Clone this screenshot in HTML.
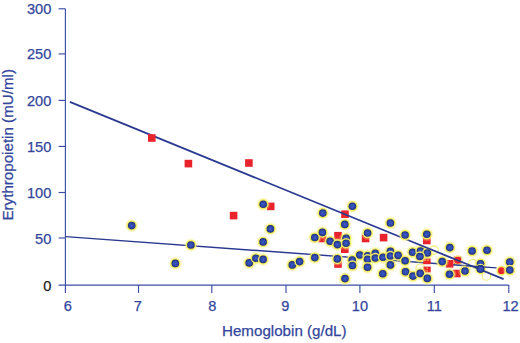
<!DOCTYPE html><html><head><meta charset="utf-8"><title>chart</title><style>
html,body{margin:0;padding:0;background:#fff;}body{width:520px;height:343px;overflow:hidden;font-family:"Liberation Sans",sans-serif;}svg{display:block}text{font-family:"Liberation Sans",sans-serif;stroke-width:0.25px;}
</style></head><body>
<svg width="520" height="343" viewBox="0 0 520 343">
<defs><radialGradient id="bg" gradientUnits="objectBoundingBox" cx="0.5" cy="0.5" r="0.5"><stop offset="0" stop-color="#3d58c6"/><stop offset="0.6" stop-color="#2e49ac"/><stop offset="0.86" stop-color="#233684"/><stop offset="1" stop-color="#1d2a6c"/></radialGradient></defs>
<rect width="520" height="343" fill="#ffffff"/>
<g stroke="#3b4ea5" stroke-width="1.15" fill="none">
<path d="M65.4 8.8V292.9"/>
<path d="M58.6 285.1H508.8" stroke-width="1.4"/>
<path d="M508.8 285.1V292.9"/>
<path d="M58.6 238.0H65.4"/>
<path d="M58.6 192.5H65.4"/>
<path d="M58.6 146.4H65.4"/>
<path d="M58.6 100.4H65.4"/>
<path d="M58.6 53.9H65.4"/>
<path d="M58.6 8.8H65.4"/>
<path d="M138.5 285.1V292.9"/>
<path d="M211.8 285.1V292.9"/>
<path d="M286.0 285.1V292.9"/>
<path d="M359.9 285.1V292.9"/>
<path d="M434.3 285.1V292.9"/>
</g>
<g fill="#33469b" stroke="#33469b" font-size="14.6px">
<text x="51.3" y="243.9" text-anchor="end">50</text>
<text x="51.3" y="198.3" text-anchor="end">100</text>
<text x="51.3" y="151.8" text-anchor="end">150</text>
<text x="51.3" y="105.8" text-anchor="end">200</text>
<text x="51.3" y="59.3" text-anchor="end">250</text>
<text x="51.3" y="14.1" text-anchor="end">300</text>
<text x="67.9" y="310.6" text-anchor="middle">6</text>
<text x="137.9" y="310.6" text-anchor="middle">7</text>
<text x="212.4" y="310.6" text-anchor="middle">8</text>
<text x="285.2" y="310.6" text-anchor="middle">9</text>
<text x="359.9" y="310.6" text-anchor="middle">10</text>
<text x="434.3" y="310.6" text-anchor="middle">11</text>
<text x="510.6" y="310.6" text-anchor="middle">12</text>
</g>
<text x="51.3" y="290.7" text-anchor="end" font-size="14.6px" fill="#1c1c1c" stroke="#1c1c1c">0</text>
 <text x="284.3" y="336.4" text-anchor="middle" font-size="15.15px" fill="#33469b" stroke="#33469b">Hemoglobin (g/dL)</text>
<text transform="translate(13.4 144.8) rotate(-90)" text-anchor="middle" font-size="15.15px" fill="#33469b" stroke="#33469b">Erythropoietin (mU/ml)</text>
<rect x="341.2" y="210.4" width="7.6" height="7.6" fill="#e8232b"/>
<rect x="453.8" y="256.5" width="7.6" height="7.6" fill="#e8232b"/>
<g fill="none" stroke="#f1eb6a" stroke-width="1.15" opacity="0.9">
<circle cx="433.9" cy="250.1" r="4.3"/>
<circle cx="457.9" cy="260.1" r="4.3"/>
<circle cx="472.9" cy="263.7" r="4.3"/>
<circle cx="486.4" cy="275.9" r="4.3"/>
<circle cx="420.2" cy="268.3" r="4.3"/>
</g>
<path d="M69.8 101.90L409 240.46M446 255.57L468 264.56" stroke="#2a3990" stroke-width="1.75" fill="none"/>
<path d="M65.6 236.60L466 265.68" stroke="#2a3990" stroke-width="1.4" fill="none"/>
<g fill="#e8232b">
<rect x="148.0" y="134.2" width="7.6" height="7.6"/>
<rect x="184.6" y="159.8" width="7.6" height="7.6"/>
<rect x="245.1" y="159.2" width="7.6" height="7.6"/>
<rect x="229.8" y="211.8" width="7.6" height="7.6"/>
<rect x="266.9" y="202.6" width="7.6" height="7.6"/>
<rect x="318.6" y="234.7" width="7.6" height="7.6"/>
<rect x="334.2" y="231.9" width="7.6" height="7.6"/>
<rect x="341.0" y="245.4" width="7.6" height="7.6"/>
<rect x="334.2" y="260.2" width="7.6" height="7.6"/>
<rect x="361.8" y="234.7" width="7.6" height="7.6"/>
<rect x="379.8" y="233.8" width="7.6" height="7.6"/>
<rect x="423.0" y="236.7" width="7.6" height="7.6"/>
<rect x="445.8" y="260.0" width="7.6" height="7.6"/>
<rect x="453.1" y="269.7" width="7.6" height="7.6"/>
</g>
<rect x="423.2" y="258.4" width="7.4" height="5.8" fill="#e8232b"/><path d="M424.6 260.2H429.2" stroke="#f2ec64" stroke-width="1" stroke-dasharray="1.6 1.1" opacity="0.85"/>
<rect x="423.5" y="266.6" width="7.2" height="5.8" fill="#e8232b"/><path d="M427.1 267.4V271.8" stroke="#f2ec64" stroke-width="1" stroke-dasharray="1.6 1.1" opacity="0.85"/>
<circle cx="501.4" cy="270.7" r="4.2" fill="#e8232b" stroke="#f2ec64" stroke-width="1.7"/>
<g fill="none" stroke="#f6f27e" stroke-width="4.2" opacity="0.30">
<circle cx="131.7" cy="225.6" r="4.6"/>
<circle cx="190.9" cy="245.0" r="4.6"/>
<circle cx="175.3" cy="263.4" r="4.6"/>
<circle cx="263.2" cy="204.2" r="4.6"/>
<circle cx="270.4" cy="228.9" r="4.6"/>
<circle cx="263.1" cy="241.9" r="4.6"/>
<circle cx="249.2" cy="262.9" r="4.6"/>
<circle cx="255.9" cy="258.2" r="4.6"/>
<circle cx="263.1" cy="259.4" r="4.6"/>
<circle cx="292.3" cy="264.9" r="4.6"/>
<circle cx="299.6" cy="261.6" r="4.6"/>
<circle cx="314.8" cy="257.6" r="4.6"/>
<circle cx="314.8" cy="237.5" r="4.6"/>
<circle cx="352.4" cy="206.2" r="4.6"/>
<circle cx="322.8" cy="213.1" r="4.6"/>
<circle cx="344.8" cy="224.4" r="4.6"/>
<circle cx="322.4" cy="232.4" r="4.6"/>
<circle cx="330.1" cy="241.2" r="4.6"/>
<circle cx="337.4" cy="244.6" r="4.6"/>
<circle cx="346.1" cy="238.2" r="4.6"/>
<circle cx="346.1" cy="243.2" r="4.6"/>
<circle cx="367.6" cy="233.0" r="4.6"/>
<circle cx="337.3" cy="258.9" r="4.6"/>
<circle cx="359.8" cy="255.0" r="4.6"/>
<circle cx="352.2" cy="260.0" r="4.6"/>
<circle cx="352.4" cy="265.5" r="4.6"/>
<circle cx="367.6" cy="255.7" r="4.6"/>
<circle cx="367.6" cy="259.3" r="4.6"/>
<circle cx="345.0" cy="278.6" r="4.6"/>
<circle cx="390.4" cy="223.0" r="4.6"/>
<circle cx="405.1" cy="235.0" r="4.6"/>
<circle cx="426.8" cy="234.3" r="4.6"/>
<circle cx="375.3" cy="253.2" r="4.6"/>
<circle cx="375.3" cy="258.0" r="4.6"/>
<circle cx="383.0" cy="257.3" r="4.6"/>
<circle cx="390.4" cy="251.4" r="4.6"/>
<circle cx="390.4" cy="256.0" r="4.6"/>
<circle cx="398.1" cy="255.4" r="4.6"/>
<circle cx="390.4" cy="264.9" r="4.6"/>
<circle cx="367.5" cy="267.3" r="4.6"/>
<circle cx="382.8" cy="273.7" r="4.6"/>
<circle cx="405.1" cy="260.8" r="4.6"/>
<circle cx="405.5" cy="271.8" r="4.6"/>
<circle cx="412.6" cy="252.3" r="4.6"/>
<circle cx="420.5" cy="251.0" r="4.6"/>
<circle cx="427.3" cy="253.0" r="4.6"/>
<circle cx="419.9" cy="256.5" r="4.6"/>
<circle cx="413.0" cy="276.1" r="4.6"/>
<circle cx="420.2" cy="273.4" r="4.6"/>
<circle cx="427.3" cy="278.4" r="4.6"/>
<circle cx="449.8" cy="247.6" r="4.6"/>
<circle cx="442.2" cy="261.6" r="4.6"/>
<circle cx="449.5" cy="274.2" r="4.6"/>
<circle cx="465.0" cy="271.0" r="4.6"/>
<circle cx="472.1" cy="251.0" r="4.6"/>
<circle cx="487.0" cy="250.2" r="4.6"/>
<circle cx="480.5" cy="263.8" r="4.6"/>
<circle cx="480.5" cy="268.9" r="4.6"/>
<circle cx="509.8" cy="262.1" r="4.6"/>
<circle cx="509.8" cy="270.0" r="4.6"/>
</g>
<g stroke="none">
<circle cx="131.7" cy="225.6" r="5.25" fill="#f2ec64"/><circle cx="131.7" cy="225.6" r="3.8" fill="url(#bg)"/>
<circle cx="190.9" cy="245.0" r="5.25" fill="#f2ec64"/><circle cx="190.9" cy="245.0" r="3.8" fill="url(#bg)"/>
<circle cx="175.3" cy="263.4" r="5.25" fill="#f2ec64"/><circle cx="175.3" cy="263.4" r="3.8" fill="url(#bg)"/>
<circle cx="263.2" cy="204.2" r="5.25" fill="#f2ec64"/><circle cx="263.2" cy="204.2" r="3.8" fill="url(#bg)"/>
<circle cx="270.4" cy="228.9" r="5.25" fill="#f2ec64"/><circle cx="270.4" cy="228.9" r="3.8" fill="url(#bg)"/>
<circle cx="263.1" cy="241.9" r="5.25" fill="#f2ec64"/><circle cx="263.1" cy="241.9" r="3.8" fill="url(#bg)"/>
<circle cx="249.2" cy="262.9" r="5.25" fill="#f2ec64"/><circle cx="249.2" cy="262.9" r="3.8" fill="url(#bg)"/>
<circle cx="255.9" cy="258.2" r="5.25" fill="#f2ec64"/><circle cx="255.9" cy="258.2" r="3.8" fill="url(#bg)"/>
<circle cx="263.1" cy="259.4" r="5.25" fill="#f2ec64"/><circle cx="263.1" cy="259.4" r="3.8" fill="url(#bg)"/>
<circle cx="292.3" cy="264.9" r="5.25" fill="#f2ec64"/><circle cx="292.3" cy="264.9" r="3.8" fill="url(#bg)"/>
<circle cx="299.6" cy="261.6" r="5.25" fill="#f2ec64"/><circle cx="299.6" cy="261.6" r="3.8" fill="url(#bg)"/>
<circle cx="314.8" cy="257.6" r="5.25" fill="#f2ec64"/><circle cx="314.8" cy="257.6" r="3.8" fill="url(#bg)"/>
<circle cx="314.8" cy="237.5" r="5.25" fill="#f2ec64"/><circle cx="314.8" cy="237.5" r="3.8" fill="url(#bg)"/>
<circle cx="352.4" cy="206.2" r="5.25" fill="#f2ec64"/><circle cx="352.4" cy="206.2" r="3.8" fill="url(#bg)"/>
<circle cx="322.8" cy="213.1" r="5.25" fill="#f2ec64"/><circle cx="322.8" cy="213.1" r="3.8" fill="url(#bg)"/>
<circle cx="344.8" cy="224.4" r="5.25" fill="#f2ec64"/><circle cx="344.8" cy="224.4" r="3.8" fill="url(#bg)"/>
<circle cx="322.4" cy="232.4" r="5.25" fill="#f2ec64"/><circle cx="322.4" cy="232.4" r="3.8" fill="url(#bg)"/>
<circle cx="330.1" cy="241.2" r="5.25" fill="#f2ec64"/><circle cx="330.1" cy="241.2" r="3.8" fill="url(#bg)"/>
<circle cx="337.4" cy="244.6" r="5.25" fill="#f2ec64"/><circle cx="337.4" cy="244.6" r="3.8" fill="url(#bg)"/>
<circle cx="346.1" cy="238.2" r="5.25" fill="#f2ec64"/><circle cx="346.1" cy="238.2" r="3.8" fill="url(#bg)"/>
<circle cx="346.1" cy="243.2" r="5.25" fill="#f2ec64"/><circle cx="346.1" cy="243.2" r="3.8" fill="url(#bg)"/>
<circle cx="367.6" cy="233.0" r="5.25" fill="#f2ec64"/><circle cx="367.6" cy="233.0" r="3.8" fill="url(#bg)"/>
<circle cx="337.3" cy="258.9" r="5.25" fill="#f2ec64"/><circle cx="337.3" cy="258.9" r="3.8" fill="url(#bg)"/>
<circle cx="359.8" cy="255.0" r="5.25" fill="#f2ec64"/><circle cx="359.8" cy="255.0" r="3.8" fill="url(#bg)"/>
<circle cx="352.2" cy="260.0" r="5.25" fill="#f2ec64"/><circle cx="352.2" cy="260.0" r="3.8" fill="url(#bg)"/>
<circle cx="352.4" cy="265.5" r="5.25" fill="#f2ec64"/><circle cx="352.4" cy="265.5" r="3.8" fill="url(#bg)"/>
<circle cx="367.6" cy="255.7" r="5.25" fill="#f2ec64"/><circle cx="367.6" cy="255.7" r="3.8" fill="url(#bg)"/>
<circle cx="367.6" cy="259.3" r="5.25" fill="#f2ec64"/><circle cx="367.6" cy="259.3" r="3.8" fill="url(#bg)"/>
<circle cx="345.0" cy="278.6" r="5.25" fill="#f2ec64"/><circle cx="345.0" cy="278.6" r="3.8" fill="url(#bg)"/>
<circle cx="390.4" cy="223.0" r="5.25" fill="#f2ec64"/><circle cx="390.4" cy="223.0" r="3.8" fill="url(#bg)"/>
<circle cx="405.1" cy="235.0" r="5.25" fill="#f2ec64"/><circle cx="405.1" cy="235.0" r="3.8" fill="url(#bg)"/>
<circle cx="426.8" cy="234.3" r="5.25" fill="#f2ec64"/><circle cx="426.8" cy="234.3" r="3.8" fill="url(#bg)"/>
<circle cx="375.3" cy="253.2" r="5.25" fill="#f2ec64"/><circle cx="375.3" cy="253.2" r="3.8" fill="url(#bg)"/>
<circle cx="375.3" cy="258.0" r="5.25" fill="#f2ec64"/><circle cx="375.3" cy="258.0" r="3.8" fill="url(#bg)"/>
<circle cx="383.0" cy="257.3" r="5.25" fill="#f2ec64"/><circle cx="383.0" cy="257.3" r="3.8" fill="url(#bg)"/>
<circle cx="390.4" cy="251.4" r="5.25" fill="#f2ec64"/><circle cx="390.4" cy="251.4" r="3.8" fill="url(#bg)"/>
<circle cx="390.4" cy="256.0" r="5.25" fill="#f2ec64"/><circle cx="390.4" cy="256.0" r="3.8" fill="url(#bg)"/>
<circle cx="398.1" cy="255.4" r="5.25" fill="#f2ec64"/><circle cx="398.1" cy="255.4" r="3.8" fill="url(#bg)"/>
<circle cx="390.4" cy="264.9" r="5.25" fill="#f2ec64"/><circle cx="390.4" cy="264.9" r="3.8" fill="url(#bg)"/>
<circle cx="367.5" cy="267.3" r="5.25" fill="#f2ec64"/><circle cx="367.5" cy="267.3" r="3.8" fill="url(#bg)"/>
<circle cx="382.8" cy="273.7" r="5.25" fill="#f2ec64"/><circle cx="382.8" cy="273.7" r="3.8" fill="url(#bg)"/>
<circle cx="405.1" cy="260.8" r="5.25" fill="#f2ec64"/><circle cx="405.1" cy="260.8" r="3.8" fill="url(#bg)"/>
<circle cx="405.5" cy="271.8" r="5.25" fill="#f2ec64"/><circle cx="405.5" cy="271.8" r="3.8" fill="url(#bg)"/>
<circle cx="412.6" cy="252.3" r="5.25" fill="#f2ec64"/><circle cx="412.6" cy="252.3" r="3.8" fill="url(#bg)"/>
<circle cx="420.5" cy="251.0" r="5.25" fill="#f2ec64"/><circle cx="420.5" cy="251.0" r="3.8" fill="url(#bg)"/>
<circle cx="427.3" cy="253.0" r="5.25" fill="#f2ec64"/><circle cx="427.3" cy="253.0" r="3.8" fill="url(#bg)"/>
<circle cx="419.9" cy="256.5" r="5.25" fill="#f2ec64"/><circle cx="419.9" cy="256.5" r="3.8" fill="url(#bg)"/>
<circle cx="413.0" cy="276.1" r="5.25" fill="#f2ec64"/><circle cx="413.0" cy="276.1" r="3.8" fill="url(#bg)"/>
<circle cx="420.2" cy="273.4" r="5.25" fill="#f2ec64"/><circle cx="420.2" cy="273.4" r="3.8" fill="url(#bg)"/>
<circle cx="427.3" cy="278.4" r="5.25" fill="#f2ec64"/><circle cx="427.3" cy="278.4" r="3.8" fill="url(#bg)"/>
<circle cx="449.8" cy="247.6" r="5.25" fill="#f2ec64"/><circle cx="449.8" cy="247.6" r="3.8" fill="url(#bg)"/>
<circle cx="442.2" cy="261.6" r="5.25" fill="#f2ec64"/><circle cx="442.2" cy="261.6" r="3.8" fill="url(#bg)"/>
<circle cx="449.5" cy="274.2" r="5.25" fill="#f2ec64"/><circle cx="449.5" cy="274.2" r="3.8" fill="url(#bg)"/>
<circle cx="465.0" cy="271.0" r="5.25" fill="#f2ec64"/><circle cx="465.0" cy="271.0" r="3.8" fill="url(#bg)"/>
<circle cx="472.1" cy="251.0" r="5.25" fill="#f2ec64"/><circle cx="472.1" cy="251.0" r="3.8" fill="url(#bg)"/>
<circle cx="487.0" cy="250.2" r="5.25" fill="#f2ec64"/><circle cx="487.0" cy="250.2" r="3.8" fill="url(#bg)"/>
<circle cx="480.5" cy="263.8" r="5.25" fill="#f2ec64"/><circle cx="480.5" cy="263.8" r="3.8" fill="url(#bg)"/>
<circle cx="480.5" cy="268.9" r="5.25" fill="#f2ec64"/><circle cx="480.5" cy="268.9" r="3.8" fill="url(#bg)"/>
<circle cx="509.8" cy="262.1" r="5.25" fill="#f2ec64"/><circle cx="509.8" cy="262.1" r="3.8" fill="url(#bg)"/>
<circle cx="509.8" cy="270.0" r="5.25" fill="#f2ec64"/><circle cx="509.8" cy="270.0" r="3.8" fill="url(#bg)"/>
</g>
<g fill="none" stroke="#2a3990">
<path d="M409 240.46L446 255.57" stroke-width="1.75"/>
<path d="M468 264.56L503.6 279.10" stroke-width="1.75"/>
<path d="M466 265.68L496.5 267.89" stroke-width="1.4"/>
</g>
<circle cx="480.5" cy="268.9" r="3.8" fill="url(#bg)"/>
</svg></body></html>
